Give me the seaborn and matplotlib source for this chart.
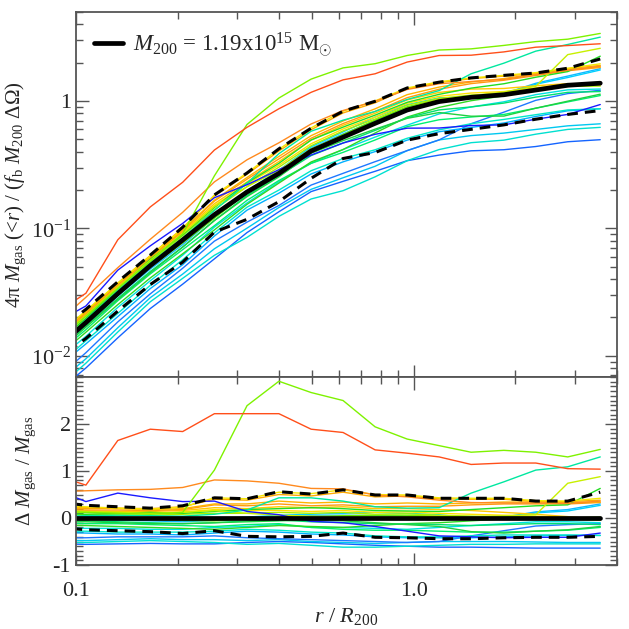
import numpy as np
import pandas as pd
import matplotlib
matplotlib.use("Agg")
import matplotlib.pyplot as plt
import seaborn as sns
from matplotlib.ticker import FixedLocator, FixedFormatter, LogLocator, MultipleLocator, NullFormatter

# radial bins (r / R200); the first bin lies just inside the plotted range
r_bins = [0.086, 0.107, 0.133, 0.166, 0.207, 0.257, 0.321, 0.399, 0.497,
          0.618, 0.769, 0.957, 1.19, 1.48, 1.85, 2.30, 2.86, 3.57]

# median profile (thick black line)
median_mass = [0.011, 0.0182, 0.0307, 0.051, 0.081, 0.128, 0.193, 0.27, 0.405,
               0.52, 0.668, 0.85, 0.99, 1.07, 1.12, 1.22, 1.33, 1.38]

# scatter band (dashed), as fractional offsets from the median
upper_delta = [0.35, 0.27, 0.24, 0.21, 0.26, 0.43, 0.41, 0.56, 0.51,
               0.60, 0.49, 0.49, 0.42, 0.42, 0.42, 0.36, 0.36, 0.55]
lower_delta = [-0.19, -0.25, -0.27, -0.29, -0.33, -0.27, -0.39, -0.40, -0.39,
               -0.32, -0.41, -0.42, -0.44, -0.44, -0.42, -0.41, -0.41, -0.39]

# individual regions, fractional offsets from the median
d_red = [0.92, 0.70, 1.65, 1.89, 1.84, 2.22, 2.22, 2.22, 1.89, 1.82, 1.45, 1.38, 1.30, 1.14, 1.17, 1.17, 1.05, 1.04]
d_lime = [0.14, 0.12, 0.10, 0.08, 0.12, 1.02, 2.39, 2.91, 2.67, 2.50, 1.94, 1.68, 1.54, 1.40, 1.44, 1.40, 1.30, 1.46]
d_orange = [0.56, 0.58, 0.60, 0.61, 0.65, 0.81, 0.79, 0.74, 0.63, 0.62, 0.49, 0.45, 0.38, 0.33, 0.32, 0.32, 0.31, 0.36]
d_blue = [0.62, 0.35, 0.53, 0.43, 0.35, 0.36, 0.14, 0.07, -0.07, -0.10, -0.18, -0.28, -0.38, -0.40, -0.42, -0.41, -0.41, -0.32]
d_teal = [0.02, 0.05, 0.06, 0.05, 0.04, 0.08, 0.17, 0.43, 0.43, 0.36, 0.24, 0.21, 0.22, 0.53, 0.77, 1.02, 1.09, 1.30]
d_yelgreen = [0.16, 0.14, 0.12, 0.10, 0.12, 0.16, 0.10, 0.06, 0.04, 0.03, 0.02, 0.03, 0.04, 0.03, 0.05, 0.07, 0.74, 0.88]
d_yellow = [0.26, 0.24, 0.21, 0.19, 0.23, 0.43, 0.41, 0.55, 0.52, 0.60, 0.50, 0.49, 0.43, 0.42, 0.42, 0.37, 0.36, 0.42]
d_amber = [0.20, 0.20, 0.21, 0.20, 0.24, 0.40, 0.38, 0.50, 0.47, 0.55, 0.45, 0.47, 0.41, 0.40, 0.40, 0.35, 0.35, 0.38]
d_green = [0.10, 0.08, 0.10, 0.12, 0.10, 0.14, 0.18, 0.20, 0.22, 0.20, 0.16, 0.15, 0.14, 0.18, 0.22, 0.26, 0.28, 0.63]
d_cyan = [0.05, 0.04, 0.02, 0.00, -0.02, -0.01, 0.02, 0.06, 0.08, 0.10, 0.12, 0.10, 0.07, 0.00, 0.00, 0.11, 0.15, 0.27]
d_sky = [0.00, -0.02, -0.04, -0.06, -0.08, -0.05, 0.00, 0.03, 0.05, 0.06, 0.05, 0.04, 0.05, 0.02, 0.02, 0.13, 0.18, 0.30]
d_orange2 = [0.18, 0.17, 0.17, 0.16, 0.18, 0.28, 0.26, 0.30, 0.26, 0.28, 0.24, 0.25, 0.25, 0.28, 0.30, 0.30, 0.30, 0.33]
d_gold = [0.15, 0.15, 0.14, 0.14, 0.16, 0.22, 0.20, 0.24, 0.22, 0.24, 0.20, 0.20, 0.18, 0.16, 0.12, 0.08, 0.03, -0.03]
d_yellow2 = [0.12, 0.12, 0.11, 0.10, 0.13, 0.18, 0.16, 0.16, 0.14, 0.16, 0.12, 0.13, 0.10, 0.08, 0.06, 0.04, 0.01, 0.00]
d_chartreuse = [0.08, 0.07, 0.07, 0.06, 0.08, 0.10, 0.10, 0.12, 0.10, 0.12, 0.08, 0.09, 0.06, 0.04, 0.02, 0.00, -0.02, -0.05]
d_green2 = [-0.08, -0.08, -0.10, -0.12, -0.12, -0.10, -0.08, -0.06, -0.04, -0.06, -0.10, -0.14, -0.18, -0.29, -0.32, -0.28, -0.25, -0.18]
d_spring = [-0.05, -0.06, -0.08, -0.10, -0.12, -0.10, -0.06, -0.04, -0.08, -0.10, -0.12, -0.13, -0.14, -0.16, -0.14, -0.12, -0.12, -0.14]
d_green3 = [-0.15, -0.16, -0.18, -0.20, -0.22, -0.24, -0.20, -0.16, -0.18, -0.20, -0.16, -0.12, -0.10, -0.06, -0.02, 0.00, -0.02, -0.02]
d_cyan2 = [-0.20, -0.22, -0.22, -0.24, -0.24, -0.20, -0.18, -0.14, -0.20, -0.20, -0.22, -0.24, -0.20, -0.16, -0.12, -0.08, -0.08, -0.10]
d_teal2 = [-0.28, -0.28, -0.30, -0.30, -0.30, -0.28, -0.24, -0.26, -0.30, -0.32, -0.38, -0.40, -0.40, -0.38, -0.36, -0.36, -0.36, -0.37]
d_dodger = [-0.42, -0.42, -0.40, -0.40, -0.40, -0.38, -0.42, -0.44, -0.46, -0.48, -0.50, -0.52, -0.50, -0.38, -0.27, -0.17, -0.14, -0.12]
d_cyan3 = [-0.47, -0.48, -0.46, -0.44, -0.46, -0.46, -0.48, -0.46, -0.50, -0.52, -0.54, -0.52, -0.50, -0.50, -0.50, -0.51, -0.52, -0.52]
d_turq = [-0.52, -0.52, -0.50, -0.48, -0.50, -0.52, -0.56, -0.54, -0.58, -0.62, -0.62, -0.60, -0.58, -0.56, -0.56, -0.55, -0.55, -0.55]
d_blue3 = [-0.55, -0.56, -0.55, -0.54, -0.55, -0.55, -0.52, -0.50, -0.52, -0.55, -0.58, -0.60, -0.62, -0.62, -0.63, -0.64, -0.64, -0.64]
d_gold2 = [0.22, 0.22, 0.20, 0.18, 0.20, 0.30, 0.30, 0.36, 0.32, 0.34, 0.30, 0.32, 0.30, 0.32, 0.34, 0.34, 0.33, 0.34]
d_green4 = [-0.10, -0.12, -0.12, -0.14, -0.16, -0.18, -0.14, -0.12, -0.20, -0.24, -0.26, -0.26, -0.28, -0.30, -0.30, -0.28, -0.26, -0.20]
d_grass = [0.02, 0.00, -0.02, -0.03, -0.05, -0.06, -0.02, 0.02, 0.02, 0.05, 0.06, 0.06, 0.04, 0.03, 0.02, 0.02, 0.00, 0.02]
d_azure = [-0.30, -0.32, -0.34, -0.34, -0.36, -0.32, -0.28, -0.30, -0.34, -0.36, -0.40, -0.42, -0.42, -0.42, -0.40, -0.38, -0.37, -0.37]

regions = [
    (d_blue3, "#1464ff"), (d_turq, "#00e0d0"), (d_cyan3, "#00c8f0"), (d_dodger, "#1e78ff"),
    (d_azure, "#00b0ff"), (d_teal2, "#00e8c8"), (d_cyan2, "#00e0e0"), (d_green4, "#00f070"),
    (d_green3, "#30d820"), (d_spring, "#00e070"), (d_green2, "#20d040"), (d_sky, "#10b8ff"),
    (d_cyan, "#00d0ff"), (d_grass, "#60e800"), (d_chartreuse, "#a8f000"), (d_yellow2, "#ffe000"),
    (d_gold, "#ffc800"), (d_orange2, "#ff9a10"), (d_gold2, "#ffb400"), (d_green, "#22dd22"),
    (d_amber, "#ffaa00"), (d_yellow, "#f5e600"), (d_yelgreen, "#c8f000"), (d_teal, "#00e8a0"),
    (d_blue, "#1a1aff"), (d_orange, "#ff8a1e"), (d_lime, "#7ef200"), (d_red, "#ff4f1a"),
]

rows = []
for i, (d, c) in enumerate(regions):
    for r, m, dd in zip(r_bins, median_mass, d):
        rows.append({"r": r, "id": i, "delta": dd, "mass": m * (1 + dd)})
df = pd.DataFrame(rows)
palette = [c for _, c in regions]

med = np.array(median_mass)
band = pd.DataFrame({
    "r": r_bins,
    "median": med,
    "upper": med * (1 + np.array(upper_delta)),
    "lower": med * (1 + np.array(lower_delta)),
    "zero": 0.0,
    "upper_d": upper_delta,
    "lower_d": lower_delta,
})

sns.set_style("ticks")
plt.rcParams["font.family"] = ["Liberation Serif", "DejaVu Serif"]
plt.rcParams["mathtext.fontset"] = "custom"
plt.rcParams["mathtext.rm"] = "Liberation Serif"
plt.rcParams["mathtext.it"] = "Liberation Serif:italic"
plt.rcParams["mathtext.bf"] = "Liberation Serif:bold"

fig = plt.figure(figsize=(6.29, 6.29), dpi=100)
ax1 = fig.add_axes([0.1208, 0.4006, 0.860, 0.5803])
ax2 = fig.add_axes([0.1208, 0.1017, 0.860, 0.2989])

dash = (3.5, 2.3)

# top panel
ax1.set_xscale("log")
ax1.set_yscale("log")
sns.lineplot(data=df, x="r", y="mass", hue="id", palette=palette, units="id",
             estimator=None, sort=False, legend=False, lw=1.0, ax=ax1)
ax1.plot(band["r"], band["upper"], color="black", lw=2.2, dashes=dash)
ax1.plot(band["r"], band["lower"], color="black", lw=2.2, dashes=dash)
ax1.plot(band["r"], band["median"], color="black", lw=3.4,
         label=r"$M_{200}$ = 1.19x10$^{15}$ M$_{\odot}$")
ax1.set_xlim(0.1, 4.0)
ax1.set_ylim(0.0068, 5.0)
ax1.yaxis.set_major_locator(FixedLocator([0.01, 0.1, 1.0]))
ax1.yaxis.set_major_formatter(FixedFormatter([r"10$^{-2}$", r"10$^{-1}$", "1"]))
ax1.yaxis.set_minor_locator(LogLocator(base=10, subs=np.arange(2, 10)))
ax1.yaxis.set_minor_formatter(NullFormatter())
ax1.xaxis.set_major_formatter(NullFormatter())
ax1.xaxis.set_minor_formatter(NullFormatter())
ax1.set_xlabel("")
ax1.set_ylabel(r"4π $M_{\rm gas}$ (<$r$) / ($f_{\rm b}$ $M_{200}$ ΔΩ)", fontsize=15)
ax1.legend(loc="upper left", frameon=False, fontsize=16.5, handlelength=1.25,
           handletextpad=0.45, borderaxespad=0.5, borderpad=0.3)

# bottom panel
ax2.set_xscale("log")
sns.lineplot(data=df, x="r", y="delta", hue="id", palette=palette, units="id",
             estimator=None, sort=False, legend=False, lw=1.0, ax=ax2)
ax2.plot(band["r"], band["upper_d"], color="black", lw=2.2, dashes=dash)
ax2.plot(band["r"], band["lower_d"], color="black", lw=2.2, dashes=dash)
ax2.plot(band["r"], band["zero"], color="black", lw=3.4)
ax2.set_xlim(0.1, 4.0)
ax2.set_ylim(-1.0, 3.0)
ax2.yaxis.set_major_locator(FixedLocator([-1, 0, 1, 2]))
ax2.yaxis.set_major_formatter(FixedFormatter(["-1", "0", "1", "2"]))
ax2.yaxis.set_minor_locator(MultipleLocator(0.1))
ax2.xaxis.set_major_locator(FixedLocator([0.1, 1.0]))
ax2.xaxis.set_major_formatter(FixedFormatter(["0.1", "1.0"]))
ax2.xaxis.set_minor_formatter(NullFormatter())
ax2.set_xlabel(r"$r$ / $R_{200}$", fontsize=16)
ax2.set_ylabel(r"Δ $M_{\rm gas}$ / $M_{\rm gas}$", fontsize=15)

for ax in (ax1, ax2):
    ax.tick_params(which="both", direction="in", top=True, right=True,
                   color="#555555", labelsize=16, width=1.0)
    ax.tick_params(which="major", length=9)
    ax.tick_params(which="minor", length=5)
    ax.tick_params(axis="x", pad=12)
    for s in ax.spines.values():
        s.set_color("#555555")
        s.set_linewidth(1.3)

ax1.yaxis.set_label_coords(-0.088, 0.5)
ax2.yaxis.set_label_coords(-0.07, 0.5)

fig.savefig("out.png", dpi=100)
